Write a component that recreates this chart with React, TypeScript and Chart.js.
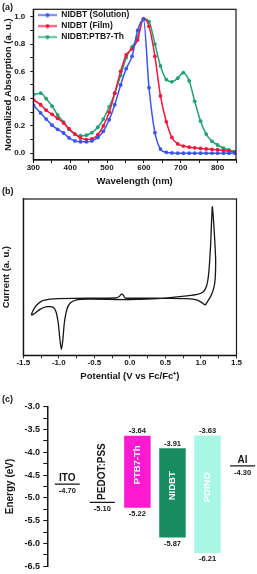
import React, { useEffect, useRef } from 'react';
import { Chart, registerables } from 'chart.js';

Chart.register(...registerables);

const FONT_FAMILY = "'Liberation Sans', Arial, Helvetica, sans-serif";
const INK = '#161616';
Chart.defaults.font.family = FONT_FAMILY;
Chart.defaults.color = INK;

// ---------- (a) UV-vis absorption ----------
const WAVELENGTH_NM = [301, 320, 335, 351, 366, 382, 397, 413, 428, 444, 459, 475, 490, 506, 521, 537, 552, 568, 583, 599, 614, 630, 645, 661, 676, 692, 707, 723, 738, 754, 769, 785, 800, 816, 831, 847];
const ABS_SOLUTION = [0.35, 0.295, 0.25, 0.205, 0.175, 0.148, 0.112, 0.09, 0.084, 0.083, 0.09, 0.115, 0.16, 0.245, 0.355, 0.5, 0.62, 0.71, 0.9, 0.98, 0.48, 0.15, 0.03, 0.006, 0.002, 0, 0, 0, 0, 0, 0, 0, 0, 0, 0, 0];
const ABS_FILM = [0.39, 0.355, 0.315, 0.285, 0.255, 0.222, 0.18, 0.14, 0.112, 0.1, 0.105, 0.135, 0.2, 0.3, 0.44, 0.6, 0.72, 0.765, 0.83, 0.985, 0.93, 0.71, 0.42, 0.23, 0.115, 0.068, 0.052, 0.044, 0.039, 0.035, 0.031, 0.028, 0.025, 0.02, 0.015, 0.006];
const ABS_BLEND = [0.43, 0.44, 0.4, 0.345, 0.28, 0.228, 0.175, 0.138, 0.128, 0.132, 0.15, 0.19, 0.25, 0.34, 0.44, 0.57, 0.7, 0.78, 0.85, 0.985, 0.965, 0.8, 0.64, 0.54, 0.523, 0.55, 0.59, 0.53, 0.38, 0.235, 0.14, 0.087, 0.06, 0.037, 0.024, 0.012];
const SERIES_LABELS = ['NIDBT (Solution)', 'NIDBT (Film)', 'NIDBT:PTB7-Th'];
const SERIES_COLORS = ['#3a55ee', '#f4163e', '#22a274'];
const WAVELENGTH_TICKS = [300, 400, 500, 600, 700, 800];
const ABS_TICKS = [0, 0.2, 0.4, 0.6, 0.8, 1.0];

// ---------- (b) cyclic voltammetry ----------
const CV_POTENTIAL_V = [-0.1, 0.1, 0.4, 0.6, 0.8, 0.95, 1.03, 1.08, 1.11, 1.135, 1.16, 1.18, 1.197, 1.207, 1.2, 1.18, 1.14, 1.1, 1.06, 1.02, 0.95, 0.8, 0.5, 0.2, -0.07, -0.095, -0.12, -0.15, -0.2, -0.6, -1.0, -1.124, -1.241, -1.311, -1.359, -1.382, -1.335, -1.265, -1.171, -1.078, -1.04, -1.008, -0.984, -0.965, -0.946, -0.923, -0.889, -0.843, -0.749, -0.6, -0.3, -0.1];
const CV_CURRENT_AU = [35.6, 35.8, 36.2, 37.0, 38.0, 39.0, 40.5, 44.5, 53.0, 70.0, 95.0, 84.0, 71.0, 60.0, 49.0, 43.0, 38.0, 35.0, 32.2, 33.5, 35.3, 36.2, 36.4, 36.6, 36.8, 38.6, 39.1, 37.6, 36.7, 36.5, 36.3, 35.9, 34.7, 32.2, 29.0, 25.8, 26.9, 29.4, 31.1, 30.7, 27.9, 20.5, 9.8, 4.0, 8.7, 20.5, 29.0, 33.3, 35.4, 35.9, 35.8, 35.6];
const POTENTIAL_TICKS = [-1.5, -1.0, -0.5, 0.0, 0.5, 1.0, 1.5];

// ---------- (c) energy levels ----------
const LAYER_NAMES = ['ITO', 'PEDOT:PSS', 'PTB7-Th', 'NIDBT', 'PDINO', 'Al'];
const LUMO_EV: (number | null)[] = [null, null, -3.64, -3.91, -3.63, null];
const HOMO_EV: (number | null)[] = [null, null, -5.22, -5.87, -6.21, null];
const WORK_FUNCTION_EV: (number | null)[] = [-4.7, -5.1, null, null, null, -4.3];
const LAYER_COLORS = ['#161616', '#161616', '#ff1ad2', '#178c62', '#a8f6e4', '#161616'];
const ENERGY_TICKS = [-3.0, -3.5, -4.0, -4.5, -5.0, -5.5, -6.0, -6.5];
const ROTATED_LEVEL_NAMES = ['PEDOT:PSS'];

const near = (list: number[], v: number) => list.some((t) => Math.abs(t - v) < 1e-6);

function framePlugin() {
  return {
    id: 'frame',
    afterDraw(chart: any) {
      const { ctx, chartArea: a } = chart;
      ctx.save();
      ctx.strokeStyle = INK;
      ctx.lineWidth = 1.2;
      ctx.strokeRect(a.left, a.top, a.right - a.left, a.bottom - a.top);
      ctx.restore();
    },
  };
}

function panelTag(text: string, x: number, y: number) {
  return {
    id: 'panelTag',
    afterDraw(chart: any) {
      const ctx = chart.ctx;
      ctx.save();
      ctx.font = `bold 9px ${FONT_FAMILY}`;
      ctx.fillStyle = INK;
      ctx.textAlign = 'left';
      ctx.textBaseline = 'middle';
      ctx.fillText(text, x, y);
      ctx.restore();
    },
  };
}

// keeps the in-plot legend inside the frame (Chart.js puts a vertical chartArea legend at the canvas top)
const legendInsideFrame = {
  id: 'legendInsideFrame',
  afterUpdate(chart: any) {
    const lg = chart.legend;
    if (!lg) return;
    const a = chart.chartArea;
    const h = lg.bottom - lg.top;
    lg.left = a.left + 2.2;
    lg.top = a.top - 1;
    lg.bottom = lg.top + h;
  },
};

function lineSample(color: string): HTMLCanvasElement {
  const c = document.createElement('canvas');
  c.width = 19;
  c.height = 5;
  const g = c.getContext('2d')!;
  g.strokeStyle = color;
  g.lineWidth = 1.5;
  g.beginPath();
  g.moveTo(0, 2.5);
  g.lineTo(19, 2.5);
  g.stroke();
  g.fillStyle = color;
  g.beginPath();
  g.arc(9.5, 2.5, 2, 0, Math.PI * 2);
  g.fill();
  return c;
}

const tickFont = (size: number) => ({ size, weight: 'bold' as const, lineHeight: 1 });
const titleFont = (size: number) => ({ size, weight: 'bold' as const });

function makeAbsorption(canvas: HTMLCanvasElement) {
  const samples = SERIES_COLORS.map(lineSample);
  const datasets = [ABS_SOLUTION, ABS_FILM, ABS_BLEND].map((vals, k) => ({
    label: SERIES_LABELS[k],
    data: WAVELENGTH_NM.map((w, i) => ({ x: w, y: vals[i] })),
    borderColor: SERIES_COLORS[k],
    backgroundColor: SERIES_COLORS[k],
    borderWidth: 1.5,
    pointRadius: 1.9,
    pointHoverRadius: 1.9,
    pointBorderWidth: 0,
    cubicInterpolationMode: 'monotone' as const,
    fill: false,
  }));
  return new Chart(canvas, {
    type: 'line',
    data: { datasets },
    options: {
      responsive: false,
      animation: false,
      devicePixelRatio: 1,
      events: [],
      layout: { padding: { top: 9.3, right: 21, bottom: 0, left: 0 } },
      scales: {
        x: {
          type: 'linear',
          min: 300,
          max: 850,
          afterFit: (s: any) => { s.height = 30; },
          ticks: {
            stepSize: 50,
            autoSkip: false,
            maxRotation: 0,
            padding: 1,
            font: tickFont(8),
            color: INK,
            callback: (v: any) => (near(WAVELENGTH_TICKS, Number(v)) ? String(v) : ''),
          },
          grid: { drawOnChartArea: false, drawTicks: true, tickLength: 3, tickColor: INK, tickWidth: 1 },
          border: { display: true, color: INK, width: 1.2 },
          title: { display: true, text: 'Wavelength (nm)', font: titleFont(9.5), color: INK, padding: { top: 0, bottom: 3.3 } },
        },
        y: {
          min: -0.05,
          max: 1.055,
          afterFit: (s: any) => { s.width = 33.3; },
          ticks: {
            stepSize: 0.1,
            includeBounds: false,
            autoSkip: false,
            padding: 5,
            font: tickFont(8),
            color: INK,
            callback: (v: any) => (near(ABS_TICKS, Number(v)) ? Number(v).toFixed(1) : ''),
          },
          grid: { drawOnChartArea: false, drawTicks: true, tickLength: 3, tickColor: INK, tickWidth: 1 },
          border: { display: true, color: INK, width: 1.2 },
          title: { display: true, text: 'Normalized Absorption (a. u.)', font: titleFont(9.5), color: INK, padding: { top: 2.6, bottom: 0 } },
        },
      },
      plugins: {
        legend: {
          position: 'chartArea' as any,
          align: 'start',
          labels: {
            usePointStyle: true,
            pointStyleWidth: 19,
            padding: 2.5,
            font: { size: 8.5, weight: 'bold' },
            color: INK,
            generateLabels: (chart: any) =>
              Chart.defaults.plugins.legend.labels.generateLabels(chart).map((item: any, i: number) => ({
                ...item,
                pointStyle: samples[i],
              })),
          },
        },
        tooltip: { enabled: false },
      },
    },
    plugins: [framePlugin(), legendInsideFrame, panelTag('(a)', 2, 8)],
  });
}

function makeVoltammetry(canvas: HTMLCanvasElement) {
  return new Chart(canvas, {
    type: 'scatter',
    data: {
      datasets: [
        {
          label: 'CV',
          data: CV_POTENTIAL_V.map((v, i) => ({ x: v, y: CV_CURRENT_AU[i] })),
          showLine: true,
          borderColor: INK,
          borderWidth: 1.3,
          pointRadius: 0,
          tension: 0.2,
          fill: false,
        },
      ],
    },
    options: {
      responsive: false,
      animation: false,
      devicePixelRatio: 1,
      events: [],
      layout: { padding: { top: 14, right: 20.5, bottom: 0, left: 0 } },
      scales: {
        x: {
          type: 'linear',
          min: -1.5,
          max: 1.5,
          afterFit: (s: any) => { s.height = 29.7; },
          ticks: {
            stepSize: 0.25,
            autoSkip: false,
            maxRotation: 0,
            padding: 0,
            font: tickFont(8),
            color: INK,
            callback: (v: any) => (near(POTENTIAL_TICKS, Number(v)) ? Number(v).toFixed(1) : ''),
          },
          grid: { drawOnChartArea: false, drawTicks: true, tickLength: 3, tickColor: INK, tickWidth: 1 },
          border: { display: true, color: INK, width: 1.2 },
          title: { display: true, text: 'Potential (V vs Fc/Fc\u207A)', font: titleFont(9.5), color: INK, padding: { top: 0, bottom: 2.8 } },
        },
        y: {
          min: 0,
          max: 100,
          afterFit: (s: any) => { s.width = 23.3; },
          ticks: { display: false },
          grid: { drawOnChartArea: false, drawTicks: false },
          border: { display: true, color: INK, width: 1.2 },
          title: { display: true, text: 'Current (a. u.)', font: titleFont(9.5), color: INK, padding: { top: 0.3, bottom: 0 } },
        },
      },
      plugins: { legend: { display: false }, tooltip: { enabled: false } },
    },
    plugins: [framePlugin(), panelTag('(b)', 2, 6.5)],
  });
}

const LEVEL_HALF_THICKNESS_EV = 0.014;

const energyLabels = {
  id: 'energyLabels',
  afterDatasetsDraw(chart: any) {
    const { ctx } = chart;
    ctx.save();
    ctx.textAlign = 'center';
    ctx.textBaseline = 'middle';
    // bars (donor / acceptor / ETL)
    chart.getDatasetMeta(0).data.forEach((el: any, i: number) => {
      const idx = chart.data.datasets[0].data[i].x;
      const top = Math.min(el.y, el.base);
      const bottom = Math.max(el.y, el.base);
      ctx.fillStyle = INK;
      ctx.font = `bold 7.5px ${FONT_FAMILY}`;
      ctx.fillText((LUMO_EV[idx] as number).toFixed(2), el.x, top - 4.5);
      ctx.fillText((HOMO_EV[idx] as number).toFixed(2), el.x, bottom + 6);
      ctx.save();
      ctx.translate(el.x, (top + bottom) / 2 - 7);
      ctx.rotate(-Math.PI / 2);
      ctx.fillStyle = '#ffffff';
      ctx.font = `bold 9.5px ${FONT_FAMILY}`;
      ctx.fillText(LAYER_NAMES[idx], 0, 0);
      ctx.restore();
    });
    // electrode / interlayer levels
    chart.getDatasetMeta(1).data.forEach((el: any, i: number) => {
      const idx = chart.data.datasets[1].data[i].x;
      const y = (el.y + el.base) / 2;
      const name = LAYER_NAMES[idx];
      ctx.fillStyle = INK;
      ctx.font = `bold 7.5px ${FONT_FAMILY}`;
      ctx.fillText((WORK_FUNCTION_EV[idx] as number).toFixed(2), el.x, y + 6.8);
      ctx.font = `bold 10px ${FONT_FAMILY}`;
      if (ROTATED_LEVEL_NAMES.includes(name)) {
        ctx.save();
        ctx.translate(el.x, y - 2.5);
        ctx.rotate(-Math.PI / 2);
        ctx.textAlign = 'left';
        ctx.fillText(name, 0, 0);
        ctx.restore();
      } else {
        ctx.fillText(name, el.x, y - 6);
      }
    });
    ctx.restore();
  },
};

function makeEnergy(canvas: HTMLCanvasElement) {
  const barIdx = LAYER_NAMES.map((_, i) => i).filter((i) => LUMO_EV[i] != null);
  const levelIdx = LAYER_NAMES.map((_, i) => i).filter((i) => WORK_FUNCTION_EV[i] != null);
  return new Chart(canvas, {
    type: 'bar',
    data: {
      datasets: [
        {
          label: 'Active / ETL layers',
          data: barIdx.map((i) => ({ x: i, y: [HOMO_EV[i] as number, LUMO_EV[i] as number] })) as any,
          backgroundColor: barIdx.map((i) => LAYER_COLORS[i]),
          borderWidth: 0,
          barPercentage: 0.755,
          categoryPercentage: 1,
          grouped: false,
        },
        {
          label: 'Electrodes',
          data: levelIdx.map((i) => ({
            x: i,
            y: [(WORK_FUNCTION_EV[i] as number) - LEVEL_HALF_THICKNESS_EV, (WORK_FUNCTION_EV[i] as number) + LEVEL_HALF_THICKNESS_EV],
          })) as any,
          backgroundColor: levelIdx.map((i) => LAYER_COLORS[i]),
          borderWidth: 0,
          barPercentage: 0.714,
          categoryPercentage: 1,
          grouped: false,
        },
      ],
    },
    options: {
      responsive: false,
      animation: false,
      devicePixelRatio: 1,
      events: [],
      layout: { padding: { top: 21.7, right: 0, bottom: 5.7, left: 0 } },
      scales: {
        x: { type: 'linear', min: -0.57, max: 5.411, display: false, offset: false },
        y: {
          min: -6.5,
          max: -3.0,
          afterFit: (s: any) => { s.width = 47.3; },
          ticks: {
            stepSize: 0.25,
            autoSkip: false,
            padding: 3.3,
            font: tickFont(9),
            color: INK,
            callback: (v: any) => (near(ENERGY_TICKS, Number(v)) ? Number(v).toFixed(1) : ''),
          },
          grid: { drawOnChartArea: false, drawTicks: true, tickLength: 4, tickColor: INK, tickWidth: 1 },
          border: { display: true, color: INK, width: 1.5 },
          title: { display: true, text: 'Energy (eV)', font: titleFont(10), color: INK, padding: { top: 4.5, bottom: 0 } },
        },
      },
      plugins: { legend: { display: false }, tooltip: { enabled: false } },
    },
    plugins: [energyLabels, panelTag('(c)', 2, 15)],
  });
}

export default function App() {
  const aRef = useRef<HTMLCanvasElement>(null);
  const bRef = useRef<HTMLCanvasElement>(null);
  const cRef = useRef<HTMLCanvasElement>(null);

  useEffect(() => {
    const charts = [makeAbsorption(aRef.current!), makeVoltammetry(bRef.current!), makeEnergy(cRef.current!)];
    return () => charts.forEach((c) => c.destroy());
  }, []);

  return (
    <div style={{ position: 'absolute', left: 0, top: 0, width: 257, height: 574, background: '#ffffff' }}>
      <canvas ref={aRef} width={257} height={190} style={{ position: 'absolute', left: 0, top: 0 }} />
      <canvas ref={bRef} width={257} height={200} style={{ position: 'absolute', left: 0, top: 185 }} />
      <canvas ref={cRef} width={257} height={189} style={{ position: 'absolute', left: 0, top: 385 }} />
    </div>
  );
}
